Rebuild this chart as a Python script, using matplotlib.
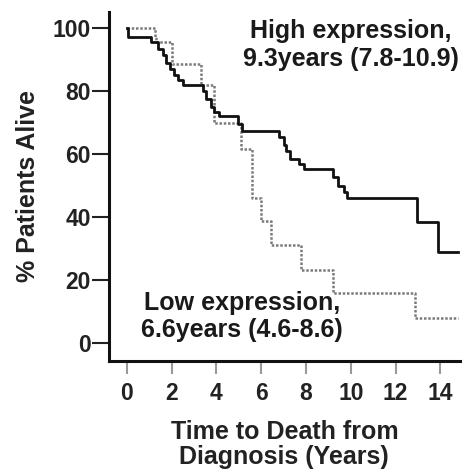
import matplotlib
matplotlib.use("Agg")
import matplotlib.pyplot as plt

plt.rcParams['font.family'] = ['Liberation Sans', 'DejaVu Sans']
plt.rcParams['font.weight'] = 'bold'
plt.rcParams['axes.labelweight'] = 'bold'

# Kaplan-Meier steps (years, % alive after the step)
high_time = [0, 0.05, 1.1, 1.4, 1.6, 1.75, 1.95, 2.1, 2.3, 2.5, 3.4, 3.55, 3.75, 3.9, 4.1,
             4.95, 5.15, 6.8, 7.0, 7.1, 7.3, 7.7, 7.9, 9.2, 9.45, 9.7, 9.85, 12.95, 13.9, 14.8]
high_surv = [100, 97.2, 95.5, 93.5, 91.5, 89, 87, 85, 83.5, 82, 80, 77.5, 75, 73.5, 72,
             69.6, 67.4, 65.5, 63, 61, 58.5, 57, 55.3, 52.7, 50, 48, 46, 38.3, 28.8, 28.8]

low_time = [0, 1.25, 1.3, 2.0, 3.3, 3.9, 5.1, 5.6, 6.0, 6.45, 7.8, 9.2, 12.85, 14.8]
low_surv = [100, 97.2, 95.5, 88.5, 82, 69.8, 61.5, 46.2, 38.6, 31.2, 23.2, 16, 8, 8]

x_ticks = [0, 2, 4, 6, 8, 10, 12, 14]
y_ticks = [0, 20, 40, 60, 80, 100]

high_text = "High expression,\n9.3years (7.8-10.9)"
low_text = "Low expression,\n6.6years (4.6-8.6)"

fig = plt.figure(figsize=(4.65, 4.73), dpi=100)
ax = fig.add_axes([0.234, 0.237, 0.755, 0.738])

ax.step(low_time, low_surv, where='post', color='#7a7a7a', lw=1.8, linestyle=(0, (1, 0.7)))
ax.step(high_time, high_surv, where='post', color='#111111', lw=2.0)

ax.set_xlim(-0.8, 14.87)
ax.set_ylim(-5.7, 105.2)
ax.set_xticks(x_ticks)
ax.set_yticks(y_ticks)

for side in ['top', 'right']:
    ax.spines[side].set_visible(False)
for side in ['left', 'bottom']:
    ax.spines[side].set_linewidth(2.2)
    ax.spines[side].set_color('#111111')

ax.tick_params(axis='y', length=12, width=1.5, pad=1, labelsize=16.5, colors='#222222')
ax.tick_params(axis='x', length=9, width=1.5, pad=6, labelsize=16.5, color='#999999', labelcolor='#222222')

ax.set_ylabel('% Patients Alive', fontsize=18, color='#222222', labelpad=9)
ax.set_xlabel('Time to Death from\nDiagnosis (Years)', fontsize=18, color='#222222',
              labelpad=11, linespacing=1.05)

ax.text(10.0, 94.7, high_text, ha='center', va='center', fontsize=18,
        color='#1a1a1a', linespacing=1.2)
ax.text(5.14, 8.4, low_text, ha='center', va='center', fontsize=18,
        color='#1a1a1a', linespacing=1.2)

fig.savefig('out.png', dpi=100)
